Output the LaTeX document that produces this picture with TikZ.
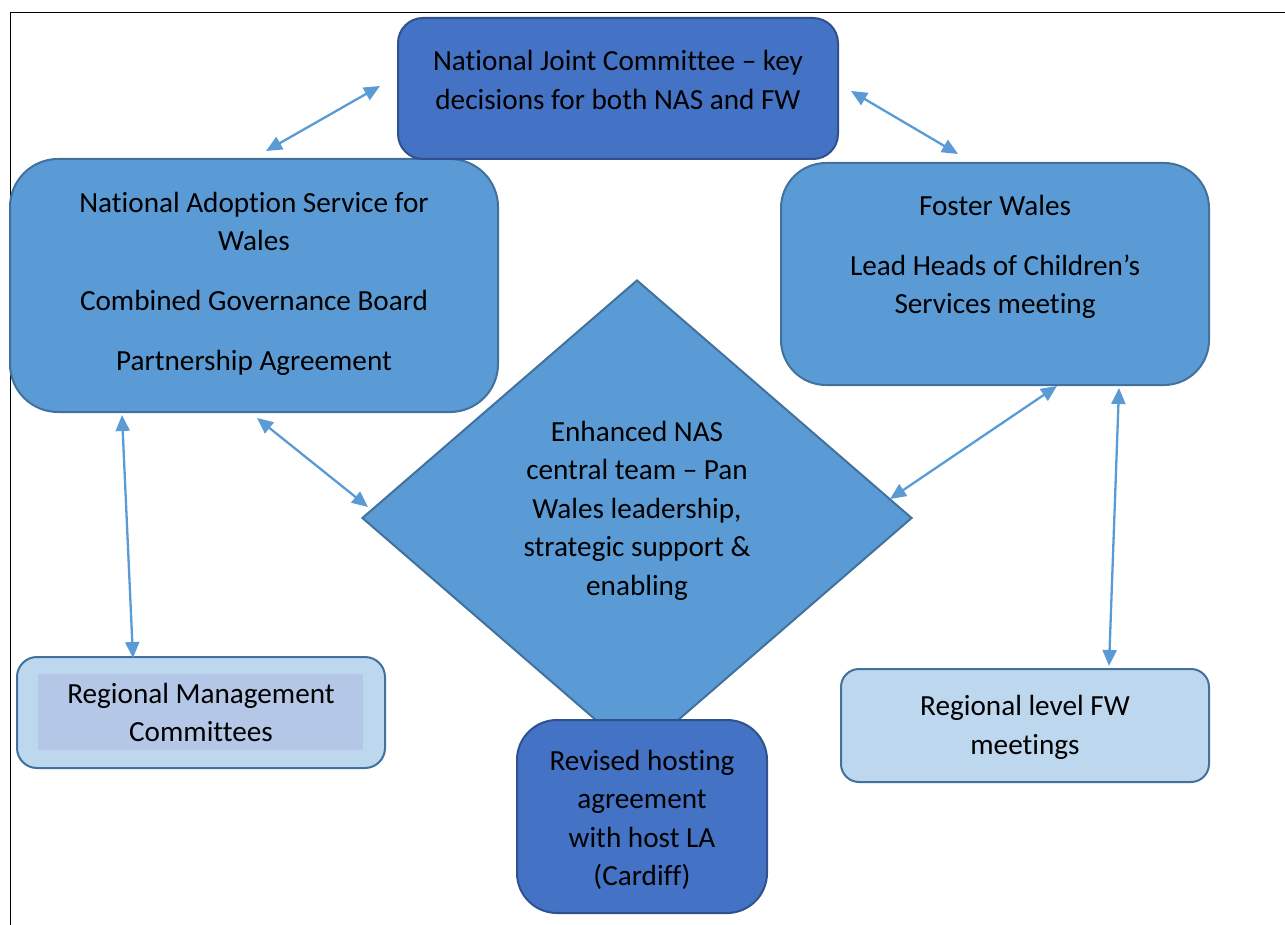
\documentclass[tikz,border=0pt]{standalone}
\usepackage{fontspec}
\setmainfont{Carlito}[Ligatures=CommonOff]
\usetikzlibrary{shapes.geometric,arrows.meta,calc}
\definecolor{darkfill}{HTML}{4472C4}
\definecolor{darkline}{HTML}{2F528F}
\definecolor{midfill}{HTML}{5B9BD5}
\definecolor{midline}{HTML}{41719C}
\definecolor{lightfill}{HTML}{BDD7EE}
\definecolor{shadefill}{HTML}{B4C7E7}
\definecolor{linkblue}{HTML}{5B9BD5}
\newcommand{\boxfont}{\fontsize{29.2}{38.5}\selectfont}
\tikzset{
	darkbox/.style = {rectangle, rounded corners=#1, fill=darkfill, draw=darkline, line width=2pt, inner sep=0pt},
	midbox/.style = {rectangle, rounded corners=#1, fill=midfill, draw=midline, line width=2pt, inner sep=0pt},
	lightbox/.style = {rectangle, rounded corners=#1, fill=lightfill, draw=midline, line width=2pt, inner sep=0pt},
	txt/.style = {align=center, inner sep=0pt, font=\boxfont},
	link/.style = {draw=linkblue, line width=2.3pt, {Triangle[length=16pt,width=14pt]}-{Triangle[length=16pt,width=14pt]}}
}
\begin{document}
\begin{tikzpicture}[x=1pt, y=-1pt]
			\useasboundingbox (0,0) rectangle (1285,925);
			\draw[line width=1.5pt] (10.5,925) -- (10.5,12.5) -- (1285,12.5);
			% boxes
			\node[diamond, fill=midfill, draw=midline, line width=2pt, inner sep=0pt,
				minimum width=550pt, minimum height=476pt] (dia) at (637,518) {};
			\node[midbox=48pt, minimum width=488pt, minimum height=253pt] (nas) at (254,285.5) {};
			\node[darkbox=25pt, minimum width=440pt, minimum height=141pt] (njc) at (618,88.5) {};
			\node[midbox=45pt, minimum width=428pt, minimum height=222pt] (fw) at (995,274) {};
			\node[lightbox=20pt, minimum width=368pt, minimum height=111pt] (rmc) at (201,712.5) {};
			\node[fill=shadefill, minimum width=325pt, minimum height=76pt, inner sep=0pt] (rmcshade) at (200.5,712) {};
			\node[lightbox=18pt, minimum width=368pt, minimum height=113pt] (rfw) at (1025,725.5) {};
			\node[darkbox=40pt, minimum width=250pt, minimum height=193pt] (rev) at (642,816.5) {};
			% texts
			\node[txt] (njctext) at ([yshift=8.5pt]njc.center) {National Joint Committee – key\\decisions for both NAS and FW};
			\node[txt] (nastext) at ([yshift=1.5pt]nas.center) {National Adoption Service for\\Wales\\[21.5pt]Combined Governance Board\\[21.5pt]Partnership Agreement};
			\node[txt] (fwtext) at ([yshift=17pt]fw.center) {Foster Wales\\[21.5pt]Lead Heads of Children’s\\Services meeting};
			\node[txt] (diatext) at ([yshift=7.5pt]dia.center) {Enhanced NAS\\central team – Pan\\Wales leadership,\\strategic support \&\\enabling};
			\node[txt] (rmctext) at (rmc.center) {Regional Management\\Committees};
			\node[txt] (rfwtext) at ([yshift=-2pt]rfw.center) {Regional level FW\\meetings};
			\node[txt] (revtext) at ([yshift=-3.5pt]rev.center) {Revised hosting\\agreement\\with host LA\\(Cardiff)};
			% links
			\draw[link] ($(nas.north)+(12,-7)$) -- ($(njc.west)+(-17,-2.5)$);
			\draw[link] ($(njc.east)+(12,2.5)$) -- ($(fw.north)+(-37,-8)$);
			\draw[link] ($(nas.south)+(3,5)$) -- ($(dia.west)+(7,-11)$);
			\draw[link] ($(fw.south)+(62,0)$) -- ($(dia.east)+(-23,-19)$);
			\draw[link] ($(nas.south)+(-132,2)$) -- ($(rmc.north)+(-68,2)$);
			\draw[link] ($(fw.south)+(124,2)$) -- ($(rfw.north)+(84,-2)$);
		\end{tikzpicture}
\end{document}
